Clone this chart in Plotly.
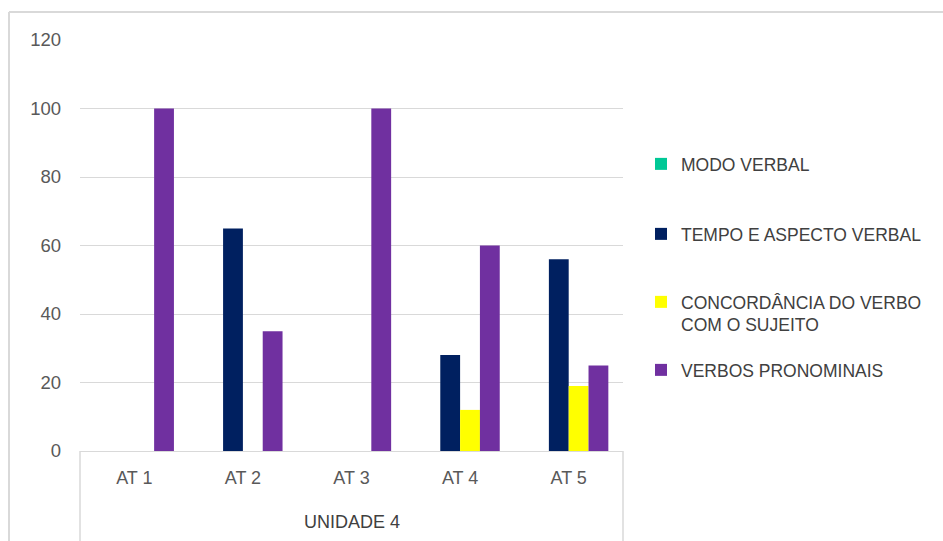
import plotly.graph_objects as go

# Activities of unit 4 and percentage scores per grammar topic
categories = ["AT 1", "AT 2", "AT 3", "AT 4", "AT 5"]
group_label = "UNIDADE 4"

series_names = [
    "MODO VERBAL",
    "TEMPO E ASPECTO VERBAL",
    "CONCORDÂNCIA DO VERBO<br>COM O SUJEITO",
    "VERBOS PRONOMINAIS",
]
modo_verbal = [0, 0, 0, 0, 0]
tempo_aspecto = [0, 65, 0, 28, 56]
concordancia = [0, 0, 0, 12, 19]
verbos_pronominais = [100, 35, 100, 60, 25]

y_ticks = [0, 20, 40, 60, 80, 100, 120]

colors = ["#00C896", "#002060", "#FFFF00", "#7030A0"]
values = [modo_verbal, tempo_aspecto, concordancia, verbos_pronominais]

FONT = "Liberation Sans"
GRID = "#D9D9D9"

# plot area: 80..623 px horizontally, 40..451 px vertically
W, H = 943, 541
L, R, T, B = 80, W - 623, 40, H - 451
PH = 451 - 40
PW = 623 - 80


def py(pixel_y):
    return (451 - pixel_y) / PH


def px(pixel_x):
    return (pixel_x - 80) / PW


fig = go.Figure()
legend_ids = ["legend", "legend2", "legend3", "legend4"]
legend_y = [py(146), py(216), py(284), py(352)]

for name, vals, col, lid in zip(series_names, values, colors, legend_ids):
    fig.add_trace(go.Bar(
        x=categories, y=vals, name=name,
        marker=dict(color=col, line=dict(width=0)),
        legend=lid,
    ))

legend_common = dict(
    x=px(641), xanchor="left", yanchor="top",
    font=dict(family=FONT, size=17.5, color="#404040"),
    bgcolor="rgba(0,0,0,0)", borderwidth=0, valign="top",
    itemclick=False, itemdoubleclick=False,
)

layout_legends = {}
for lid, ly in zip(legend_ids, legend_y):
    layout_legends[lid] = dict(legend_common, y=ly)

fig.update_layout(
    width=W, height=H,
    margin=dict(l=L, r=R, t=T, b=B, pad=0),
    paper_bgcolor="white", plot_bgcolor="white",
    barmode="group", bargap=0.27, bargroupgap=0,
    showlegend=True,
    font=dict(family=FONT, color="#595959"),
    xaxis=dict(
        type="category", categoryorder="array", categoryarray=categories,
        showgrid=False, ticks="", showline=True, linecolor=GRID, linewidth=1,
        tickfont=dict(family=FONT, size=18, color="#595959"),
        ticklabelstandoff=10,
        fixedrange=True,
    ),
    yaxis=dict(
        range=[0, 120], tickvals=y_ticks, showgrid=True, gridcolor=GRID,
        gridwidth=1, zeroline=False, showline=False, ticks="",
        tickfont=dict(family=FONT, size=18.5, color="#595959"),
        ticklabelstandoff=18,
        fixedrange=True,
    ),
    **layout_legends,
)

# group label under the activity labels
fig.add_annotation(
    text=group_label, xref="paper", yref="paper", x=0.5, y=py(522),
    yanchor="middle", xanchor="center",
    showarrow=False, font=dict(family=FONT, size=18, color="#404040"),
)

# frame of the category box and the outer chart border
shapes = [
    dict(type="line", xref="paper", yref="paper", x0=0, x1=0, y0=0, y1=py(545),
         line=dict(color=GRID, width=1.5)),
    dict(type="line", xref="paper", yref="paper", x0=1, x1=1, y0=0, y1=py(545),
         line=dict(color=GRID, width=1.5)),
    dict(type="line", xref="paper", yref="paper", x0=px(9), x1=px(9), y0=py(545), y1=py(12),
         line=dict(color=GRID, width=2)),
    dict(type="line", xref="paper", yref="paper", x0=px(9), x1=px(950), y0=py(12), y1=py(12),
         line=dict(color=GRID, width=2)),
]
fig.update_layout(shapes=shapes)

fig.write_html("out.html")
